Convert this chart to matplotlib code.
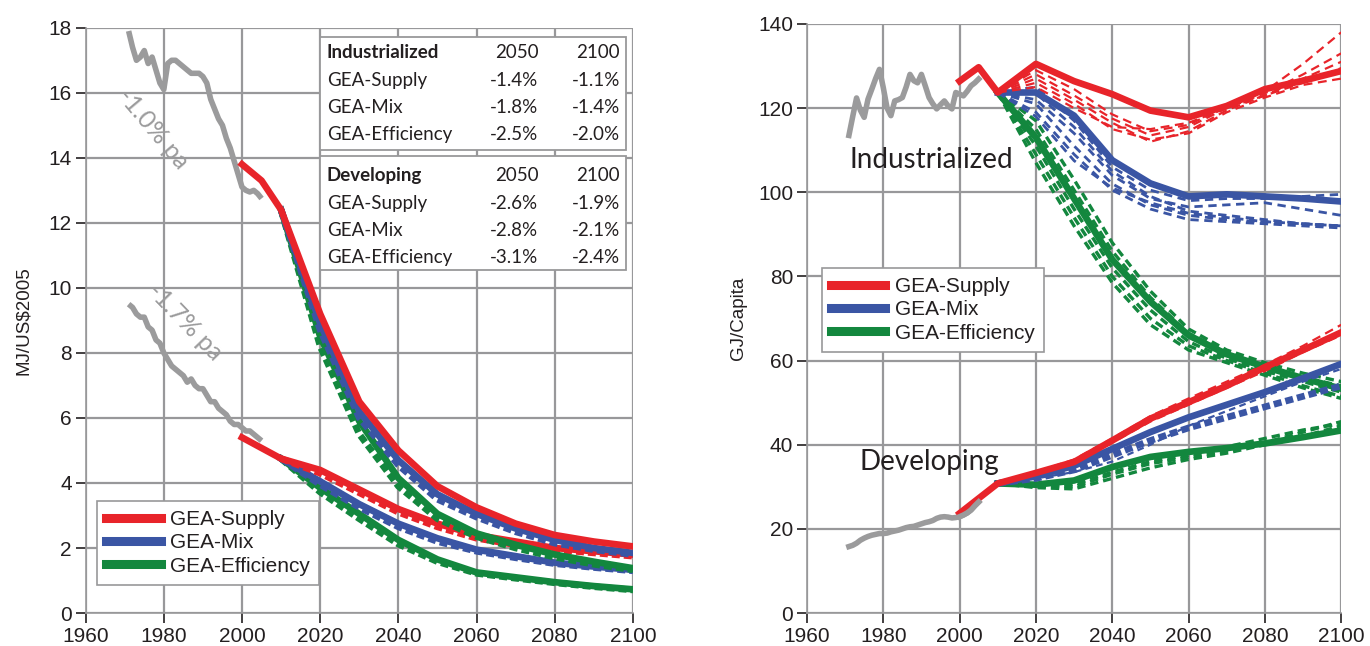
"""
plot.py - GEA energy intensity (left) and final energy per capita (right)
for industrialized and developing regions, history plus three scenario groups.
"""

import matplotlib
matplotlib.use("Agg")
import matplotlib.pyplot as plt
from matplotlib.lines import Line2D
from matplotlib.patches import Rectangle

RED = "#e8242a"
BLUE = "#3a55a4"
GREEN = "#13873e"
HIST = "#9b9b9c"
GRID = "#98989a"
INK = "#231f20"

# ---------------- left panel: MJ/US$2005 ----------------
hist_years = list(range(1971, 2006))
ind_hist_mj = [17.9, 17.4, 17.0, 17.1, 17.3, 16.9, 17.1, 16.7, 16.3, 16.1,
               16.9, 17.0, 17.0, 16.9, 16.8, 16.7, 16.6, 16.6, 16.6, 16.5,
               16.3, 15.8, 15.5, 15.2, 15.0, 14.6, 14.3, 13.9, 13.5, 13.1,
               13.0, 12.95, 13.0, 12.9, 12.75]
dev_hist_mj = [9.5, 9.4, 9.2, 9.1, 9.1, 8.8, 8.7, 8.4, 8.3, 8.0,
               7.8, 7.6, 7.5, 7.4, 7.3, 7.1, 7.2, 7.0, 6.9, 6.9,
               6.7, 6.5, 6.5, 6.3, 6.2, 6.1, 5.9, 5.8, 5.8, 5.7,
               5.6, 5.6, 5.5, 5.4, 5.3]

ind_sup_years = [2000, 2005, 2010, 2020, 2030, 2040, 2050, 2060, 2070, 2080, 2090, 2100]
ind_supply_mj = [13.8, 13.3, 12.4, 9.2, 6.5, 5.0, 3.9, 3.25, 2.75, 2.4, 2.2, 2.05]
scen_years = [2010, 2020, 2030, 2040, 2050, 2060, 2070, 2080, 2090, 2100]
ind_mix_mj = [12.4, 8.9, 6.2, 4.7, 3.65, 3.05, 2.6, 2.25, 2.0, 1.85]
ind_mix_mj_alt = [12.4, 8.7, 6.0, 4.55, 3.5, 2.95, 2.5, 2.15, 1.95, 1.8]
ind_eff_mj = [12.4, 8.5, 5.9, 4.15, 3.05, 2.45, 2.1, 1.8, 1.58, 1.38]
ind_eff_mj_alt = [12.4, 8.2, 5.5, 3.9, 2.9, 2.35, 2.0, 1.72, 1.5, 1.33]

dev_sup_years = [2000, 2010, 2020, 2030, 2040, 2050, 2060, 2070, 2080, 2090, 2100]
dev_supply_mj = [5.4, 4.75, 4.4, 3.8, 3.2, 2.75, 2.4, 2.2, 2.0, 1.9, 1.8]
dev_supply_mj_alt = [4.75, 4.3, 3.7, 3.1, 2.65, 2.3, 2.1, 1.95, 1.85, 1.75]
dev_mix_mj = [4.75, 4.05, 3.35, 2.75, 2.3, 1.95, 1.75, 1.55, 1.43, 1.33]
dev_mix_mj_alt = [4.75, 3.95, 3.25, 2.65, 2.2, 1.9, 1.7, 1.52, 1.4, 1.3]
dev_eff_mj = [4.75, 3.85, 3.05, 2.25, 1.65, 1.25, 1.1, 0.95, 0.83, 0.73]
dev_eff_mj_alt = [4.75, 3.72, 2.9, 2.12, 1.58, 1.22, 1.07, 0.93, 0.81, 0.71]

# annual change table (2050, 2100)
table_scen = ["GEA-Supply", "GEA-Mix", "GEA-Efficiency"]
ind_2050 = ["-1.4%", "-1.8%", "-2.5%"]
ind_2100 = ["-1.1%", "-1.4%", "-2.0%"]
dev_2050 = ["-2.6%", "-2.8%", "-3.1%"]
dev_2100 = ["-1.9%", "-2.1%", "-2.4%"]

# ---------------- right panel: GJ/Capita ----------------
ind_hist_gj = [113.5, 118.0, 122.4, 119.5, 117.8, 122.1, 124.5, 127.0, 129.2, 124.9,
               120.0, 118.2, 121.7, 122.0, 122.5, 125.0, 128.0, 126.5, 126.0, 128.0,
               125.3, 122.5, 121.0, 119.8, 120.8, 121.7, 120.5, 119.8, 123.7, 123.3,
               122.9, 124.0, 125.3, 126.0, 126.9]
dev_hist_gj = [15.8, 16.1, 16.6, 17.3, 17.8, 18.2, 18.5, 18.7, 18.9, 18.9,
               19.0, 19.3, 19.5, 19.7, 20.0, 20.3, 20.5, 20.6, 20.9, 21.2,
               21.5, 21.7, 22.0, 22.5, 22.8, 22.9, 22.8, 22.6, 22.7, 22.9,
               23.3, 23.8, 24.5, 25.5, 26.4]

ind_supply_gj = [126.4, 129.7, 123.7, 130.5, 126.4, 123.3, 119.4, 117.8, 120.5, 124.5, 126.5, 128.8]
ind_mix_gj = [123.7, 123.7, 118.2, 107.6, 102.1, 99.0, 99.5, 99.0, 98.5, 97.8]
ind_eff_gj = [123.7, 113.0, 98.5, 84.0, 74.0, 66.0, 61.5, 58.5, 55.8, 53.3]

ind_supply_gj_var = [
    [123.7, 129.0, 124.5, 118.5, 114.5, 116.0, 120.5, 124.0, 130.5, 138.0],
    [123.7, 128.0, 123.0, 117.5, 113.5, 115.5, 120.0, 123.5, 128.0, 133.0],
    [123.7, 127.0, 122.0, 116.5, 112.0, 114.5, 119.5, 123.0, 127.0, 131.0],
    [123.7, 126.0, 121.0, 115.0, 112.5, 114.0, 119.0, 122.5, 125.5, 127.0],
    [123.7, 125.0, 120.0, 115.5, 115.0, 116.5, 120.0, 123.0, 126.0, 129.5],
]
ind_mix_gj_var = [
    [123.7, 125.0, 117.0, 106.0, 100.5, 98.0, 98.5, 98.5, 99.0, 99.5],
    [123.7, 122.0, 114.0, 104.0, 98.5, 96.5, 97.0, 97.5, 96.0, 94.5],
    [123.7, 121.0, 111.0, 102.0, 97.0, 94.5, 93.5, 93.0, 92.5, 92.0],
    [123.7, 119.0, 109.0, 100.5, 96.0, 93.5, 93.0, 92.5, 92.0, 91.5],
    [123.7, 123.5, 115.5, 105.0, 99.0, 95.5, 94.5, 93.5, 92.5, 92.0],
    [123.7, 118.0, 107.5, 101.0, 97.5, 95.0, 94.0, 93.0, 92.5, 92.0],
]
ind_eff_gj_var = [
    [123.7, 117.0, 103.0, 88.0, 76.5, 67.5, 62.5, 59.5, 57.0, 55.0],
    [123.7, 115.0, 100.5, 86.0, 75.0, 66.5, 62.0, 58.5, 56.0, 54.0],
    [123.7, 111.0, 96.0, 82.0, 72.0, 64.5, 60.5, 57.5, 55.0, 52.5],
    [123.7, 109.0, 94.0, 80.0, 70.0, 63.5, 60.0, 57.0, 54.0, 51.5],
    [123.7, 107.0, 92.0, 78.5, 68.5, 62.5, 59.5, 56.5, 53.5, 51.0],
]

dev_supply_gj = [23.7, 30.8, 33.3, 35.9, 41.0, 46.2, 50.1, 54.0, 58.4, 62.5, 66.7]
dev_mix_gj = [30.8, 32.5, 35.0, 39.0, 43.0, 46.5, 49.5, 52.5, 55.8, 59.2]
dev_eff_gj = [30.8, 30.5, 31.5, 34.7, 37.1, 38.3, 39.2, 40.3, 41.8, 43.4]
dev_supply_gj_var = [
    [30.8, 33.5, 36.5, 41.5, 46.8, 51.0, 55.0, 59.0, 63.5, 68.5],
    [30.8, 33.0, 35.5, 40.5, 45.5, 49.5, 53.5, 57.5, 62.0, 66.0],
]
dev_mix_gj_var = [
    [30.8, 32.0, 34.0, 37.5, 41.0, 44.0, 46.5, 49.0, 51.5, 54.0],
    [30.8, 32.0, 33.5, 36.0, 40.0, 44.5, 48.0, 51.5, 55.0, 58.0],
]
dev_eff_gj_var = [
    [30.8, 30.0, 30.0, 33.0, 35.5, 37.0, 38.5, 40.5, 43.0, 45.5],
    [30.8, 29.8, 29.5, 32.0, 34.5, 36.5, 38.0, 40.0, 42.0, 44.5],
    [30.8, 30.2, 30.5, 33.5, 36.0, 37.5, 39.5, 41.5, 43.5, 45.0],
]

SANS = ["Liberation Sans", "DejaVu Sans"]
CAL = ["Lato", "DejaVu Sans"]
plt.rcParams["font.family"] = SANS

LW = 4.8
HLW = 4.0
DASH_THICK = (0, (1.2, 0.6))


def style_axes(ax, ymax, ystep):
    ax.set_xlim(1960, 2100)
    ax.set_ylim(0, ymax)
    ax.set_xticks(range(1960, 2101, 20))
    ax.set_yticks(range(0, ymax + 1, ystep))
    ax.grid(True, color=GRID, lw=1.6)
    ax.set_axisbelow(True)
    for s in ("top", "right"):
        ax.spines[s].set_visible(False)
    for s in ("left", "bottom"):
        ax.spines[s].set_color(GRID)
        ax.spines[s].set_linewidth(1.2)
    ax.tick_params(direction="out", length=7, width=1.2, color=INK,
                   labelsize=15, labelcolor=INK, pad=3)


fig = plt.figure(figsize=(13.7, 6.46), dpi=100)
ax1 = fig.add_axes([0.0625, 0.051, 0.3995, 0.906])
ax2 = fig.add_axes([0.589, 0.051, 0.390, 0.912])

# ---- left ----
style_axes(ax1, 18, 2)
ax1.plot(hist_years, ind_hist_mj, color=HIST, lw=HLW, solid_capstyle="butt")
ax1.plot(hist_years, dev_hist_mj, color=HIST, lw=HLW, solid_capstyle="butt")

ax1.plot(scen_years, dev_eff_mj_alt, color=GREEN, lw=LW, ls=DASH_THICK)
ax1.plot(scen_years, dev_eff_mj, color=GREEN, lw=LW)
ax1.plot(scen_years, dev_mix_mj_alt, color=BLUE, lw=LW, ls=DASH_THICK)
ax1.plot(scen_years, dev_mix_mj, color=BLUE, lw=LW)
ax1.plot(scen_years, dev_supply_mj_alt, color=RED, lw=LW, ls=DASH_THICK)
ax1.plot(dev_sup_years, dev_supply_mj, color=RED, lw=LW)

ax1.plot(scen_years, ind_eff_mj_alt, color=GREEN, lw=LW, ls=DASH_THICK)
ax1.plot(scen_years, ind_eff_mj, color=GREEN, lw=LW)
ax1.plot(scen_years, ind_mix_mj_alt, color=BLUE, lw=LW, ls=DASH_THICK)
ax1.plot(scen_years, ind_mix_mj, color=BLUE, lw=LW)
ax1.plot(ind_sup_years, ind_supply_mj, color=RED, lw=LW)

ax1.text(1977.3, 14.9, "-1.0% pa", rotation=-50, fontsize=18, color=HIST,
         ha="center", va="center", family=CAL)
ax1.text(1985.3, 8.95, "-1.7% pa", rotation=-46, fontsize=18, color=HIST,
         ha="center", va="center", family=CAL)
ax1.set_ylabel("MJ/US$2005", fontsize=13.5, color=INK, labelpad=12)

# change-rate table
for y0, y1 in ((0.791, 0.985), (0.586, 0.781)):
    ax1.add_patch(Rectangle((0.428, y0), 0.559, y1 - y0, transform=ax1.transAxes,
                            facecolor="white", edgecolor=GRID, lw=1.3, zorder=4))
blocks = [("Industrialized", ind_2050, ind_2100, 0.957),
          ("Developing", dev_2050, dev_2100, 0.747)]
for head, c50, c00, ytop in blocks:
    ys = [ytop - 0.0465 * i for i in range(4)]
    kw = dict(transform=ax1.transAxes, fontsize=13.5, color=INK, va="center",
              family=CAL, zorder=5)
    ax1.text(0.441, ys[0], head, weight="bold", **kw)
    ax1.text(0.827, ys[0], "2050", ha="right", **kw)
    ax1.text(0.976, ys[0], "2100", ha="right", **kw)
    for name, a, b, y in zip(table_scen, c50, c00, ys[1:]):
        ax1.text(0.441, y, name, **kw)
        ax1.text(0.827, y, a, ha="right", **kw)
        ax1.text(0.976, y, b, ha="right", **kw)

handles = [Line2D([], [], color=c, lw=6.5) for c in (RED, BLUE, GREEN)]
labels = ["GEA-Supply", "GEA-Mix", "GEA-Efficiency"]
leg_kw = dict(fontsize=15, fancybox=False, framealpha=1, edgecolor=GRID,
              handlelength=2.6, handletextpad=0.45, borderpad=0.45,
              labelspacing=0.2, borderaxespad=0)
leg1 = ax1.legend(handles, labels, loc="lower left",
                  bbox_to_anchor=(0.021, 0.048), **leg_kw)
leg1.get_frame().set_linewidth(1.2)
for t in leg1.get_texts():
    t.set_color(INK)

# ---- right ----
style_axes(ax2, 140, 20)
ax2.plot(hist_years, ind_hist_gj, color=HIST, lw=HLW)
ax2.plot(hist_years, dev_hist_gj, color=HIST, lw=HLW)

for v in ind_eff_gj_var:
    ax2.plot(scen_years, v, color=GREEN, lw=2.4, ls=(0, (2.5, 1.5)))
for v in dev_eff_gj_var:
    ax2.plot(scen_years, v, color=GREEN, lw=2.4, ls=(0, (2.5, 1.5)))
ax2.plot(scen_years, ind_eff_gj, color=GREEN, lw=LW)
ax2.plot(scen_years, dev_eff_gj, color=GREEN, lw=LW)

for v in ind_mix_gj_var:
    ax2.plot(scen_years, v, color=BLUE, lw=2.0, ls=(0, (3, 2)))
ax2.plot(scen_years, dev_mix_gj_var[0], color=BLUE, lw=LW, ls=DASH_THICK)
ax2.plot(scen_years, dev_mix_gj_var[1], color=BLUE, lw=1.6, ls=(0, (3, 2)))
ax2.plot(scen_years, ind_mix_gj, color=BLUE, lw=LW)
ax2.plot(scen_years, dev_mix_gj, color=BLUE, lw=LW)

for v in ind_supply_gj_var:
    ax2.plot(scen_years, v, color=RED, lw=1.6, ls=(0, (4, 2.5)))
for v in dev_supply_gj_var:
    ax2.plot(scen_years, v, color=RED, lw=1.6, ls=(0, (4, 2.5)))
ax2.plot(ind_sup_years, ind_supply_gj, color=RED, lw=LW)
ax2.plot(dev_sup_years, dev_supply_gj, color=RED, lw=LW)

ax2.plot(hist_years[-6:], dev_hist_gj[-6:], color=HIST, lw=HLW)

ax2.text(1971.2, 107.7, "Industrialized", fontsize=20, color=INK,
         va="center", family=CAL)
ax2.text(1973.8, 35.9, "Developing", fontsize=20, color=INK,
         va="center", family=CAL)
ax2.set_ylabel("GJ/Capita", fontsize=13.5, color=INK, labelpad=8)

leg2 = ax2.legend(handles, labels, loc="upper left",
                  bbox_to_anchor=(0.028, 0.586), **leg_kw)
leg2.get_frame().set_linewidth(1.2)
for t in leg2.get_texts():
    t.set_color(INK)

fig.savefig("out.png", dpi=100, facecolor="white")
